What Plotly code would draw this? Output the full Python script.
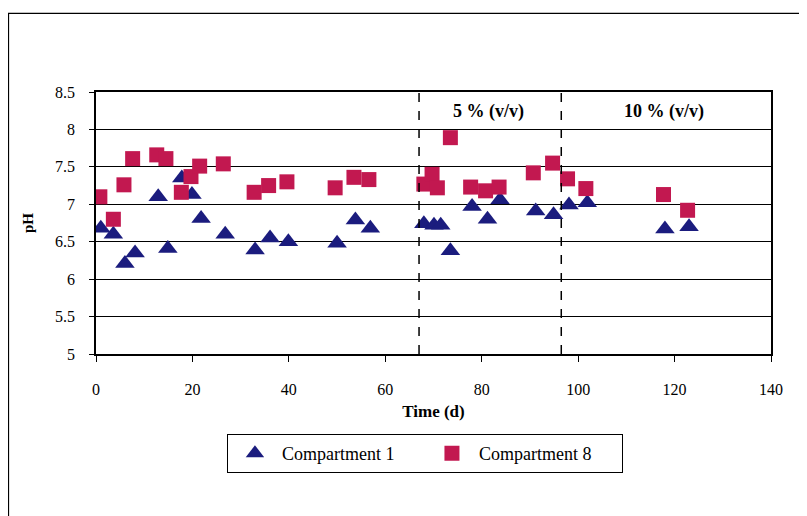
import plotly.graph_objects as go

# Compartment 1 (triangles)
t1 = [1, 3.6, 6.0, 8.1, 12.9, 14.9, 17.8, 19.9, 21.8, 26.8, 33.0, 36.1, 39.9,
      50.0, 53.8, 56.9, 68.0, 70.1, 71.5, 73.5, 78.0, 81.2, 83.8, 91.2, 94.9,
      98.1, 101.9, 118.0, 123.0]
ph1 = [6.68, 6.60, 6.21, 6.35, 7.10, 6.41, 7.35, 7.13, 6.81, 6.60, 6.39, 6.55, 6.50,
       6.48, 6.79, 6.68, 6.74, 6.72, 6.72, 6.38, 6.97, 6.80, 7.06, 6.91, 6.86,
       6.99, 7.02, 6.67, 6.70]

# Compartment 8 (squares)
t8 = [0.8, 3.6, 5.8, 7.6, 12.6, 14.5, 17.7, 19.7, 21.5, 26.4, 32.8, 35.8, 39.6,
      49.6, 53.5, 56.6, 68.0, 69.7, 70.8, 73.5, 77.7, 80.8, 83.6, 90.7, 94.7,
      97.8, 101.6, 117.7, 122.7]
ph8 = [7.10, 6.80, 7.26, 7.61, 7.66, 7.61, 7.16, 7.37, 7.51, 7.54, 7.16, 7.25, 7.30,
       7.22, 7.36, 7.33, 7.27, 7.40, 7.22, 7.89, 7.23, 7.18, 7.23, 7.42, 7.55,
       7.34, 7.21, 7.13, 6.92]

phase_lines = [67, 96.5]
phase_labels = ["5 % (v/v)", "10 % (v/v)"]
phase_label_x = [81.4, 117.8]

FONT = "Liberation Serif"
NAVY = "#1b1c7e"
CRIMSON = "#c21850"

fig = go.Figure()
fig.add_trace(go.Scatter(x=t1, y=ph1, mode="markers", name="Compartment 1",
                         marker=dict(symbol="triangle-up", size=17, color=NAVY)))
fig.add_trace(go.Scatter(x=t8, y=ph8, mode="markers", name="Compartment 8",
                         marker=dict(symbol="square", size=15, color=CRIMSON)))

for xv in phase_lines:
    fig.add_shape(type="line", xref="x", yref="paper", x0=xv, x1=xv, y0=0, y1=1,
                  line=dict(color="black", width=1.5, dash="dash"))
for lx, lt in zip(phase_label_x, phase_labels):
    fig.add_annotation(x=lx, y=0.975, xref="x", yref="paper", text="<b>%s</b>" % lt,
                       showarrow=False, font=dict(family=FONT, size=18, color="black"))

# outer chart frame
fig.add_shape(type="rect", xref="paper", yref="paper", x0=-0.1296, x1=1.2, y0=-0.8, y1=1.3,
              line=dict(color="black", width=1.2), layer="below")

fig.update_layout(
    width=799, height=508,
    margin=dict(l=88, r=36, t=84, b=162),
    paper_bgcolor="white", plot_bgcolor="white",
    font=dict(family=FONT, size=16, color="black"),
    showlegend=True,
    legend=dict(orientation="h", x=0.194, y=-0.306, xanchor="left", yanchor="top",
                bordercolor="black", borderwidth=1, entrywidth=138, entrywidthmode="pixels",
                font=dict(family=FONT, size=18), itemwidth=44,
                tracegroupgap=0),
    xaxis=dict(range=[0, 140], dtick=20, showgrid=False, zeroline=False,
               showline=True, linecolor="black", linewidth=1.5, mirror=True,
               ticks="outside", ticklen=6, tickcolor="black", ticklabelstandoff=14,
               title=dict(text="<b>Time (d)</b>", standoff=8, font=dict(family=FONT, size=17)),
               tickfont=dict(family=FONT, size=16)),
    yaxis=dict(range=[5, 8.5], dtick=0.5, showgrid=True, gridcolor="black", gridwidth=1,
               zeroline=False, showline=True, linecolor="black", linewidth=1.5, mirror=True,
               ticks="outside", ticklen=5, tickcolor="black", ticklabelstandoff=11,
               title=dict(text="<b>pH</b>", standoff=18, font=dict(family=FONT, size=15)),
               tickfont=dict(family=FONT, size=16)),
)

fig.write_html("out.html")
